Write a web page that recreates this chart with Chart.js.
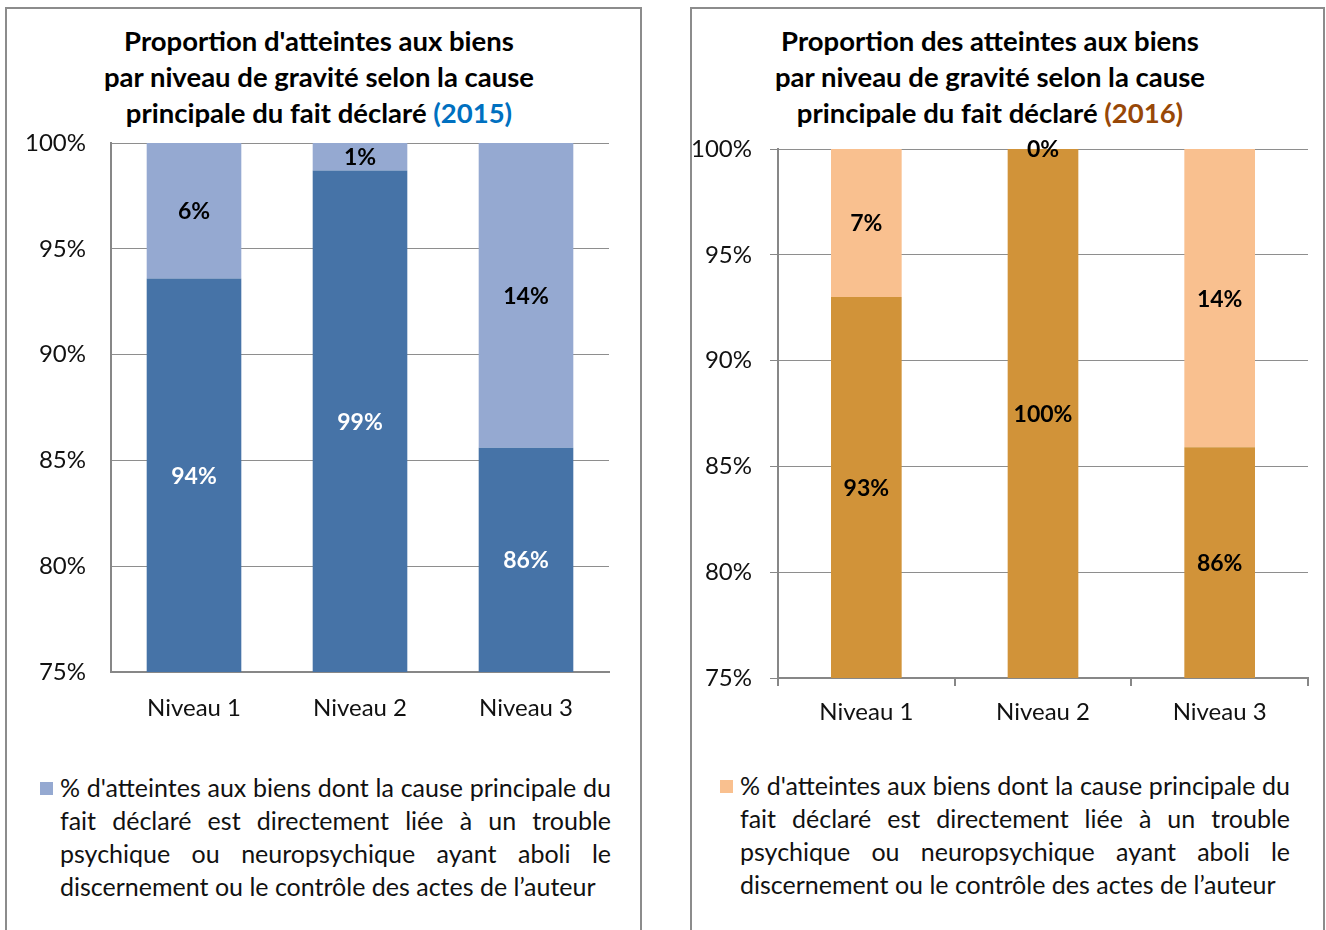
<!DOCTYPE html>
<html>
<head>
<meta charset="utf-8">
<script src="https://cdn.jsdelivr.net/npm/chart.js@4.4.1/dist/chart.umd.min.js"></script>
<style>
  html, body { margin: 0; padding: 0; background: #fff; }
  body { width: 1326px; height: 930px; position: relative; overflow: hidden; font-family: Lato, "Open Sans", sans-serif; }
  .panel { position: absolute; top: 7px; height: 960px; border: 2px solid #8c8c8c; box-sizing: border-box; }
  .title { position: absolute; text-align: center; font-weight: bold; font-size: 27.5px; line-height: 36px; color: #000; white-space: nowrap; }
  .title div { display: block; }
  canvas { position: absolute; }
  .legend { position: absolute; font-size: 25px; line-height: 33px; color: #111; }
  .legend .sw { position: absolute; width: 13px; height: 13px; }
  .legend .ln { text-align: justify; text-align-last: justify; white-space: nowrap; }
  .legend .ln.last { text-align-last: left; }
</style>
</head>
<body>
<div class="panel" style="left:5px; width:637px;"></div>
<div class="panel" style="left:690px; width:635px;"></div>

<div class="title" id="title1" style="left:19px; width:600px; top:23px;"></div>
<div class="title" id="title2" style="left:690px; width:600px; top:23px;"></div>

<div style="position:absolute; left:0; top:120px; width:640px; height:620px;"><canvas id="chart1" width="640" height="620"></canvas></div>
<div style="position:absolute; left:660px; top:116px; width:666px; height:620px;"><canvas id="chart2" width="666" height="620"></canvas></div>

<div class="legend" id="legend1" style="left:40px; top:771px; width:571px;"></div>
<div class="legend" id="legend2" style="left:720px; top:769px; width:570px;"></div>

<script>
// categories and values (percent)
const categories = ['Niveau 1', 'Niveau 2', 'Niveau 3'];
const yTicks = [75, 80, 85, 90, 95, 100];

const other2015 = [93.6, 98.7, 85.6];
const trouble2015 = [6.4, 1.3, 14.4];
const other2016 = [93.0, 100, 85.9];
const trouble2016 = [7.0, 0, 14.1];

const titleLines2015 = ["Proportion d'atteintes aux biens", "par niveau de gravité selon la cause", "principale du fait déclaré"];
const titleLines2016 = ["Proportion des atteintes aux biens", "par niveau de gravité selon la cause", "principale du fait déclaré"];

const legendLines = [
  "% d'atteintes aux biens dont la cause principale du",
  "fait déclaré est directement liée à un trouble",
  "psychique ou neuropsychique ayant aboli le",
  "discernement ou le contrôle des actes de l\u2019auteur"
];

function fillTitle(id, lines, year, yearColor) {
  const el = document.getElementById(id);
  lines.forEach((t, i) => {
    const d = document.createElement('div');
    d.textContent = t;
    if (i === lines.length - 1) {
      const s = document.createElement('span');
      s.style.color = yearColor;
      s.textContent = ' (' + year + ')';
      d.appendChild(s);
    }
    el.appendChild(d);
  });
}
fillTitle('title1', titleLines2015, 2015, '#0070c0');
fillTitle('title2', titleLines2016, 2016, '#984807');

// draws the value labels inside each bar segment
const barLabels = {
  id: 'barLabels',
  afterDatasetsDraw(chart) {
    const ctx = chart.ctx;
    const bottom = chart.chartArea.bottom;
    ctx.save();
    ctx.font = 'bold 23px Lato, "Open Sans", sans-serif';
    ctx.textAlign = 'center';
    ctx.textBaseline = 'middle';
    chart.data.datasets.forEach((ds, i) => {
      chart.getDatasetMeta(i).data.forEach((bar, j) => {
        const v = ds.data[j];
        const base = Math.min(bar.base, bottom);
        ctx.fillStyle = ds.labelColor;
        ctx.fillText(Math.round(v) + '%', bar.x, (bar.y + base) / 2 + 1);
      });
    });
    ctx.restore();
  }
};

function makeChart(id, dark, light, colors, opts) {
  const ctx = document.getElementById(id).getContext('2d');
  return new Chart(ctx, {
    type: 'bar',
    data: {
      labels: categories,
      datasets: [{
        label: 'Autre cause',
        data: dark,
        backgroundColor: colors[0],
        labelColor: colors[2],
        categoryPercentage: 1,
        barPercentage: opts.barPct
      }, {
        label: legendLines.join(' '),
        data: light,
        backgroundColor: colors[1],
        labelColor: '#000',
        categoryPercentage: 1,
        barPercentage: opts.barPct
      }]
    },
    options: {
      responsive: false,
      animation: false,
      layout: { padding: opts.padding },
      plugins: { legend: { display: false }, tooltip: { enabled: false } },
      scales: {
        x: {
          stacked: true,
          afterFit: s => { s.height = opts.xHeight; },
          grid: { display: opts.ticks, drawOnChartArea: false, offset: true, tickLength: 8, color: '#878787', lineWidth: 2 },
          border: { color: '#878787', width: 2 },
          ticks: { color: '#111', font: { size: 24, family: 'Lato' }, padding: opts.ticks ? 12 : 14 }
        },
        y: {
          stacked: true,
          min: 75,
          max: 100,
          afterFit: s => { s.width = opts.yWidth; },
          afterBuildTicks: s => { s.ticks = yTicks.map(v => ({ value: v })); },
          grid: {
            color: '#8e8e8e', lineWidth: 1, drawTicks: true,
            tickLength: opts.ticks ? 8 : 20,
            tickColor: opts.ticks ? '#878787' : 'rgba(0,0,0,0)'
          },
          border: { color: '#878787', width: 2 },
          ticks: {
            color: '#111',
            font: { size: 24, family: 'Lato' },
            padding: opts.ticks ? 18 : 5,
            callback: v => v + '%'
          }
        }
      }
    },
    plugins: [barLabels]
  });
}

const chart1 = makeChart('chart1', other2015, trouble2015, ['#4673a7', '#95a9d1', '#fff'],
  { barPct: 0.57, padding: { top: 23, right: 31, left: 0, bottom: 0 }, xHeight: 68, yWidth: 111, ticks: false });
const chart2 = makeChart('chart2', other2016, trouble2016, ['#d19339', '#f9c08f', '#000'],
  { barPct: 0.40, padding: { top: 33, right: 18, left: 0, bottom: 0 }, xHeight: 58, yWidth: 118, ticks: true });

// legend built from the second dataset of each chart
function fillLegend(id, chart) {
  const el = document.getElementById(id);
  const ds = chart.data.datasets[1];
  const sw = document.createElement('div');
  sw.className = 'sw';
  sw.style.background = ds.backgroundColor;
  sw.style.left = '0px';
  sw.style.top = '11px';
  el.appendChild(sw);
  const box = document.createElement('div');
  box.style.marginLeft = '20px';
  legendLines.forEach((t, i) => {
    const d = document.createElement('div');
    d.className = 'ln' + (i === legendLines.length - 1 ? ' last' : '');
    d.textContent = t;
    box.appendChild(d);
  });
  el.appendChild(box);
}
fillLegend('legend1', chart1);
fillLegend('legend2', chart2);
</script>
</body>
</html>
